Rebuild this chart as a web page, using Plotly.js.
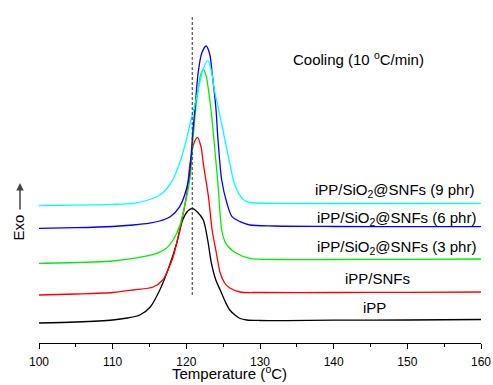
<!DOCTYPE html>
<html>
<head>
<meta charset="utf-8">
<script src="https://cdn.plot.ly/plotly-3.0.1.min.js"></script>
<style>html,body{margin:0;padding:0;background:#fff;}#chart{width:493px;height:385px;}</style>
</head>
<body>
<div id="chart"></div>
<script>
// Temperature (°C) and heat-flow (arbitrary, offset) values
const ippT = [100,105,110,112,113.7,115.1,116.4,117.5,118.7,119.5,120.2,120.8,121.5,122.3,122.9,123.4,124.0,124.6,125.3,125.9,126.6,127.3,128.2,130,140,150,160];
const ippV = [20,21,23,25,28,36,53,73,100,123,132,134.7,131,123,103,80,63,53,41,33,28,24.5,23,22.5,22.8,23,23.5];

const snfT = [100,105,110,112.8,115.5,116.8,117.5,118.2,119.1,120.0,120.5,121.0,121.5,122.0,122.3,123.0,123.5,124.0,124.6,125.2,125.9,127.3,130,140,150,160];
const snfV = [48,49,50.5,53,56,63,73,86,113,146.3,179.7,199,205.7,196,179.7,146.3,113,93,70,60,55,51,50.5,50.5,50.7,51];

const p3T = [100,105,110,112.8,116,117.3,118.2,119.1,119.8,120.5,120.9,121.3,121.6,121.9,122.3,122.7,123.0,123.3,123.75,124.3,124.8,125.2,125.7,126.8,128.6,132,140,150,160];
const p3V = [79.7,80.5,82,84.7,89.7,94.7,103,117,138,165,203,236.3,253,267,273.7,267,253,236.3,203,158,113,102,96.3,89.7,84.7,83.5,83.5,83.7,84];

const p6T = [100,105,110,112.8,115,116.4,117.8,119.1,120.3,120.9,121.2,121.6,122.1,122.7,123.2,123.5,124.0,124.3,124.8,125.5,126.2,127.3,128.6,132,140,150,160];
const p6V = [114.7,115.3,116.5,118,119.8,122,126.3,136.3,163,213,236,270,290,297,288,270,236,203,163,140,126.3,121.3,118,117,116.5,116.3,116.3];

const p9T = [100,105,110,112.8,114.8,116.4,117.3,118.2,119.1,120.0,120.6,121.1,121.6,122.2,122.9,123.4,123.8,124.3,125.1,125.9,126.5,127.1,127.8,128.6,132,140,150,160];
const p9V = [137.3,137.8,138.6,139.7,143,148,154,164,180,203,222,236.3,253,272,282.3,272,253,236.3,208,179.7,160,149.7,143,140.5,139.7,139.5,139.5,139.7];

const refLineT = [120.8,120.8];
const refLineV = [48,328];

const xTicks = [100,110,120,130,140,150,160];

const font = "Liberation Sans, Arial, sans-serif";

function curve(x, y, color, name) {
  return {x: x, y: y, name: name, mode: 'lines', type: 'scatter',
          line: {color: color, width: 1.3, shape: 'spline', smoothing: 0.8},
          hoverinfo: 'skip', showlegend: false};
}

const data = [
  curve(ippT, ippV, '#000000', 'iPP'),
  curve(snfT, snfV, '#ff0000', 'iPP/SNFs'),
  curve(p3T, p3V, '#00ee00', '3 phr'),
  curve(p6T, p6V, '#0000ff', '6 phr'),
  curve(p9T, p9V, '#00ffff', '9 phr'),
  {x: refLineT, y: refLineV, mode: 'lines', type: 'scatter',
   line: {color: '#333333', width: 1, dash: '3px,2px'}, hoverinfo: 'skip', showlegend: false}
];

const lbl = (x, y, text, xanchor) => ({x: x, y: y, xref: 'x', yref: 'y', text: text, showarrow: false,
  xanchor: xanchor, yanchor: 'middle', font: {family: font, size: 15, color: '#000'}});

const layout = {
  width: 493, height: 385,
  margin: {l: 39, r: 12, t: 10, b: 42},
  paper_bgcolor: '#fff', plot_bgcolor: '#fff',
  font: {family: font, color: '#000'},
  xaxis: {
    range: [100, 160], tickvals: xTicks, ticktext: xTicks.map(String),
    showline: true, linecolor: '#000', linewidth: 1, mirror: false,
    ticks: 'outside', ticklen: 5, tickwidth: 1, tickcolor: '#000',
    ticklabelstandoff: 3,
    minor: {dtick: 5, tick0: 100, ticks: 'outside', ticklen: 3, tickcolor: '#000', tickwidth: 1},
    showgrid: false, zeroline: false,
    tickfont: {family: font, size: 12, color: '#000'}
  },
  yaxis: {range: [0, 333], visible: false, showgrid: false, zeroline: false},
  annotations: [
    lbl(143.4, 285, 'Cooling (10 <sup>o</sup>C/min)', 'center'),
    lbl(159.3, 153, 'iPP/SiO<sub>2</sub>@SNFs (9 phr)', 'right'),
    lbl(159.6, 124.7, 'iPP/SiO<sub>2</sub>@SNFs (6 phr)', 'right'),
    lbl(159.6, 95.7, 'iPP/SiO<sub>2</sub>@SNFs (3 phr)', 'right'),
    lbl(146.0, 64.7, 'iPP/SNFs', 'center'),
    lbl(145.5, 35.7, 'iPP', 'center'),
    {x: 0.432, y: -0.123, xref: 'paper', yref: 'paper', text: 'Temperature (<sup>o</sup>C)', showarrow: false,
     xanchor: 'center', yanchor: 'bottom', font: {family: font, size: 15, color: '#000'}},
    {x: -0.0468, y: 0.348, xref: 'paper', yref: 'paper', text: 'Exo', showarrow: false, textangle: -90,
     xanchor: 'center', yanchor: 'middle', font: {family: font, size: 15, color: '#000'}},
    {x: -0.043, y: 0.4805, xref: 'paper', yref: 'paper', text: '', showarrow: true,
     ax: 0, ay: 28, arrowhead: 2, arrowsize: 1, arrowwidth: 1.5, arrowcolor: '#444'}
  ]
};

Plotly.newPlot('chart', data, layout, {displayModeBar: false, staticPlot: true});
</script>
</body>
</html>
